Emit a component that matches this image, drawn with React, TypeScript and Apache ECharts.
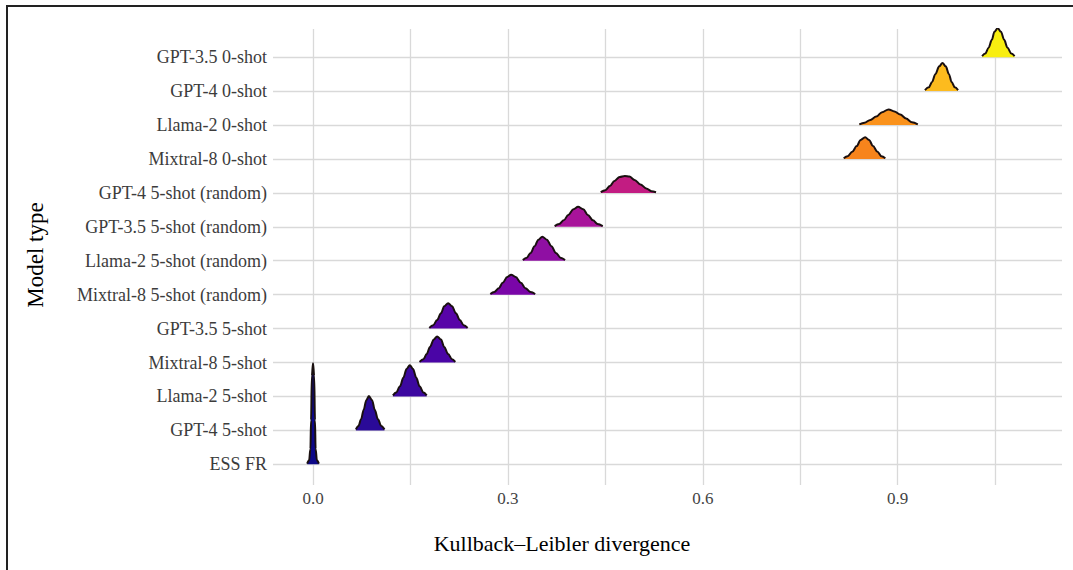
import React, { useEffect, useRef } from "react";
import * as echarts from "echarts";

const categories = [
  "ESS FR",
  "GPT-4 5-shot",
  "Llama-2 5-shot",
  "Mixtral-8 5-shot",
  "GPT-3.5 5-shot",
  "Mixtral-8 5-shot (random)",
  "Llama-2 5-shot (random)",
  "GPT-3.5 5-shot (random)",
  "GPT-4 5-shot (random)",
  "Mixtral-8 0-shot",
  "Llama-2 0-shot",
  "GPT-4 0-shot",
  "GPT-3.5 0-shot",
];

// density ridges: [KL value, ridge height (in row units)]
const ridgeEssFR: [number, number][] = [[-0.009, 0.02], [-0.006, 0.12], [-0.004, 0.45], [-0.003, 1.3], [-0.0018, 2.6], [0, 2.98], [0.0018, 2.6], [0.003, 1.3], [0.004, 0.45], [0.006, 0.12], [0.009, 0.02]];
const ridgeGpt4Five: [number, number][] = [[0.066, 0.03], [0.07, 0.13], [0.074, 0.33], [0.078, 0.61], [0.082, 0.89], [0.086, 1.01], [0.091, 0.89], [0.095, 0.61], [0.1, 0.33], [0.105, 0.13], [0.11, 0.03]];
const ridgeLlamaFive: [number, number][] = [[0.123, 0.03], [0.128, 0.12], [0.134, 0.3], [0.139, 0.55], [0.144, 0.81], [0.149, 0.92], [0.154, 0.81], [0.159, 0.55], [0.164, 0.3], [0.17, 0.12], [0.175, 0.03]];
const ridgeMixtralFive: [number, number][] = [[0.164, 0.02], [0.17, 0.1], [0.175, 0.25], [0.18, 0.46], [0.186, 0.68], [0.191, 0.77], [0.197, 0.68], [0.202, 0.46], [0.208, 0.25], [0.214, 0.1], [0.219, 0.02]];
const ridgeGpt35Five: [number, number][] = [[0.179, 0.02], [0.185, 0.1], [0.191, 0.25], [0.197, 0.45], [0.202, 0.66], [0.208, 0.75], [0.214, 0.66], [0.22, 0.45], [0.226, 0.25], [0.232, 0.1], [0.238, 0.02]];
const ridgeMixtralRandom: [number, number][] = [[0.273, 0.02], [0.279, 0.08], [0.286, 0.19], [0.292, 0.35], [0.299, 0.52], [0.305, 0.59], [0.312, 0.52], [0.32, 0.35], [0.327, 0.19], [0.335, 0.08], [0.342, 0.02]];
const ridgeLlamaRandom: [number, number][] = [[0.323, 0.02], [0.329, 0.09], [0.335, 0.23], [0.341, 0.43], [0.347, 0.62], [0.353, 0.71], [0.36, 0.62], [0.367, 0.43], [0.374, 0.23], [0.381, 0.09], [0.388, 0.02]];
const ridgeGpt35Random: [number, number][] = [[0.372, 0.02], [0.379, 0.08], [0.386, 0.19], [0.393, 0.35], [0.401, 0.52], [0.408, 0.59], [0.416, 0.52], [0.423, 0.35], [0.431, 0.19], [0.438, 0.08], [0.446, 0.02]];
const ridgeGpt4Random: [number, number][] = [[0.443, 0.02], [0.45, 0.08], [0.457, 0.2], [0.464, 0.35], [0.472, 0.47], [0.48, 0.5], [0.487, 0.48], [0.495, 0.38], [0.504, 0.25], [0.513, 0.13], [0.521, 0.05], [0.528, 0.02]];
const ridgeMixtralZero: [number, number][] = [[0.817, 0.02], [0.823, 0.08], [0.83, 0.21], [0.837, 0.38], [0.843, 0.56], [0.85, 0.64], [0.856, 0.56], [0.862, 0.38], [0.869, 0.21], [0.875, 0.08], [0.881, 0.02]];
const ridgeLlamaZero: [number, number][] = [[0.841, 0.02], [0.849, 0.07], [0.858, 0.15], [0.867, 0.25], [0.876, 0.38], [0.886, 0.46], [0.895, 0.4], [0.904, 0.31], [0.913, 0.19], [0.922, 0.08], [0.931, 0.02]];
const ridgeGpt4Zero: [number, number][] = [[0.942, 0.03], [0.948, 0.11], [0.953, 0.27], [0.958, 0.5], [0.964, 0.73], [0.969, 0.83], [0.974, 0.73], [0.979, 0.5], [0.983, 0.27], [0.988, 0.11], [0.993, 0.03]];
const ridgeGpt35Zero: [number, number][] = [[1.03, 0.03], [1.035, 0.11], [1.04, 0.28], [1.045, 0.51], [1.049, 0.75], [1.054, 0.855], [1.059, 0.75], [1.064, 0.51], [1.069, 0.28], [1.075, 0.11], [1.08, 0.03]];

const ridges = [
  ridgeEssFR, ridgeGpt4Five, ridgeLlamaFive, ridgeMixtralFive, ridgeGpt35Five,
  ridgeMixtralRandom, ridgeLlamaRandom, ridgeGpt35Random, ridgeGpt4Random,
  ridgeMixtralZero, ridgeLlamaZero, ridgeGpt4Zero, ridgeGpt35Zero,
];

const fillColors = [
  "#0d0887", "#2a0a98", "#3c08a0", "#4a05a6", "#5804a8", "#7a06a8", "#8f0fa3",
  "#a8139a", "#c21c82", "#f7841c", "#fa921c", "#fdbb1e", "#f8ee10",
];

const xTickValues = [0, 0.3, 0.6, 0.9];
const xGridValues = [0, 0.15, 0.3, 0.45, 0.6, 0.75, 0.9, 1.05];
const yTickValues = [0, 1, 2, 3, 4, 5, 6, 7, 8, 9, 10, 11, 12];

const xTitle = "Kullback–Leibler divergence";
const yTitle = "Model type";

const SERIF = "'Liberation Serif', 'Times New Roman', serif";

export default function App() {
  const ref = useRef<HTMLDivElement>(null);
  useEffect(() => {
    if (!ref.current) return;
    const chart = echarts.init(ref.current, undefined, { renderer: "svg" });
    const gridStyle = { color: "#d9d9d9", width: 1.3, type: "solid" as const };
    const series: any[] = [
      {
        type: "line",
        data: [],
        z: 1,
        silent: true,
        markLine: {
          silent: true,
          symbol: ["none", "none"],
          label: { show: false },
          lineStyle: gridStyle,
          emphasis: { disabled: true },
          animation: false,
          data: [
            ...xGridValues.map((v) => ({ xAxis: v })),
            ...yTickValues.map((v) => ({ yAxis: v })),
          ],
        },
      },
    ];
    ridges.forEach((r, i) => {
      series.push({
        type: "line",
        name: categories[i],
        z: 20 - i,
        data: r.map(([x, h]) => [x, i + h]),
        smooth: 0.35,
        smoothMonotone: "x",
        showSymbol: false,
        symbol: "none",
        silent: true,
        lineStyle: { color: "#1a1010", width: 2 },
        areaStyle: { color: fillColors[i], opacity: 1, origin: i },
      });
    });
    chart.setOption({
      animation: false,
      backgroundColor: "#ffffff",
      grid: { left: 273, right: 11, top: 29, bottom: 85, containLabel: false },
      xAxis: {
        type: "value",
        min: -0.0616,
        max: 1.153,
        axisLine: { show: false },
        axisTick: { show: false },
        splitLine: { show: false },
        axisLabel: {
          customValues: xTickValues,
          formatter: (v: number) => v.toFixed(1),
          fontFamily: SERIF,
          fontSize: 17,
          color: "#444",
          margin: 5,
        },
      },
      yAxis: {
        type: "value",
        min: -0.61,
        max: 12.83,
        axisLine: { show: false },
        axisTick: { show: false },
        splitLine: { show: false },
        axisLabel: {
          customValues: yTickValues,
          formatter: (v: number) => categories[Math.round(v)] ?? "",
          fontFamily: SERIF,
          fontSize: 18,
          color: "#3c3c3c",
          margin: 6,
        },
      },
      graphic: [
        {
          type: "polyline",
          shape: { points: [[1073, 6], [7, 6], [7, 570]] },
          style: { stroke: "#222", lineWidth: 2, fill: "none" },
          silent: true,
        },
        {
          type: "text",
          x: 562,
          y: 543,
          style: {
            text: xTitle,
            font: `22px ${SERIF}`,
            fill: "#000",
            textAlign: "center",
            textVerticalAlign: "middle",
          },
          silent: true,
        },
        {
          type: "text",
          x: 35,
          y: 255,
          rotation: Math.PI / 2,
          style: {
            text: yTitle,
            font: `23px ${SERIF}`,
            fill: "#000",
            textAlign: "center",
            textVerticalAlign: "middle",
          },
          silent: true,
        },
      ],
      series,
    });
    return () => chart.dispose();
  }, []);
  return (
    <div
      ref={ref}
      style={{ position: "absolute", left: 0, top: 0, width: 1073, height: 570, background: "#fff" }}
    />
  );
}
